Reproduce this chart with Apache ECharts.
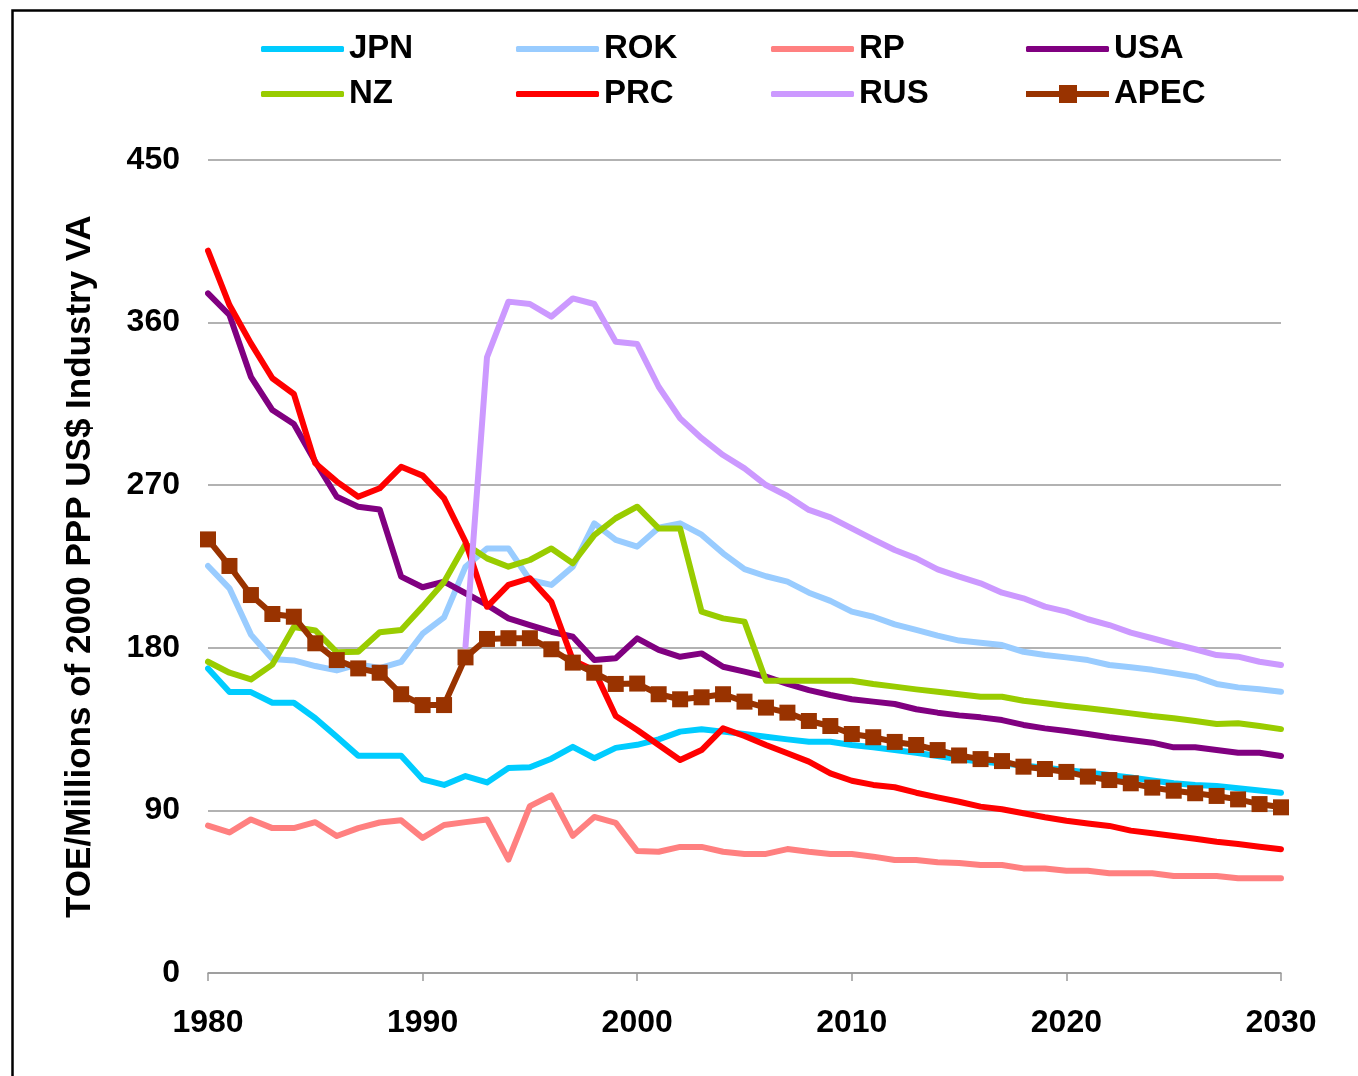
<!DOCTYPE html>
<html>
<head>
<meta charset="utf-8">
<script src="https://cdn.jsdelivr.net/npm/echarts@6/dist/echarts.min.js"></script>
<style>
html,body{margin:0;padding:0;background:#fff;}
#chart{width:1358px;height:1076px;}
</style>
</head>
<body>
<div id="chart"></div>
<script>
var years = ['1980','1981','1982','1983','1984','1985','1986','1987','1988','1989',
  '1990','1991','1992','1993','1994','1995','1996','1997','1998','1999',
  '2000','2001','2002','2003','2004','2005','2006','2007','2008','2009',
  '2010','2011','2012','2013','2014','2015','2016','2017','2018','2019',
  '2020','2021','2022','2023','2024','2025','2026','2027','2028','2029','2030'];

var yTicks = [0, 90, 180, 270, 360, 450];

var JPN = [168.6,155.5,155.5,149.6,149.6,141,130.8,120.3,120.3,120.3,
  107.2,104.1,109,105.5,113.5,113.9,118.6,125.2,118.9,124.6,
  126.3,129.3,133.6,134.9,133.6,132.3,130.8,129.3,128,128,
  126.2,124.9,123.4,121.9,120.1,118.3,117,116,114.8,113.6,
  112.4,111,109.6,108.2,106.6,105,104,103.5,102.3,101,99.8];

var ROK = [225.3,212.9,187.3,173.8,173,169.9,167.5,170.8,168.8,172.2,
  187.8,196.8,224.9,235,235,217.5,214.8,224.9,248.9,239.7,
  236,246.5,248.9,242.6,232.3,223.5,219.6,216.6,210.5,206,
  200,197.2,193,189.9,186.7,184,182.8,181.5,177.8,176,
  174.7,173.2,170.5,169.2,167.8,165.9,164,160,158.1,157,155.7];

var RP = [81.6,77.8,85,80.2,80.2,83.5,75.8,80.2,83.3,84.5,
  74.8,81.9,83.5,85,62.8,92.4,98.3,75.9,86.4,83.1,
  67.5,67.1,69.8,69.8,67.1,65.9,65.9,68.6,67.1,65.9,
  65.9,64.4,62.5,62.5,61.3,60.9,59.8,59.8,57.9,57.9,
  56.6,56.6,55.2,55.2,55.2,53.7,53.7,53.7,52.4,52.4,52.4];

var USA = [376.2,364.2,330,311.6,303.9,283,263.6,258.1,256.6,219.4,
  213.5,216.6,210.2,203.7,196.3,192.6,188.9,186.1,173.2,174.2,
  185.2,178.8,175,176.9,169.5,166.8,164,160,156.6,153.9,
  151.5,150.2,148.9,146,144.1,142.6,141.5,140,137.3,135.4,
  133.9,132.3,130.5,129,127.5,124.9,124.9,123.4,121.9,121.9,120.1];

var NZ = [172.3,166.2,162.5,170.7,191.5,189.6,177.6,177.8,188.6,189.8,
  202.8,216.4,237.5,229.5,224.9,228.6,235,226.8,242.4,251.7,
  258.1,246.1,246.1,200,196.3,194.5,161.8,161.8,161.8,161.8,
  161.8,160,158.5,157,155.7,154.3,152.9,152.9,150.7,149.3,
  147.8,146.5,145.2,143.7,142.2,141,139.5,137.8,138.2,136.7,135];

var PRC = [399.8,369.7,348.5,329.2,320.5,282.1,272,263.6,268.3,280.2,
  275.3,262.7,238.7,202.7,214.8,218.5,205.5,173.2,167.5,142.2,
  134.5,126.2,117.9,123.4,135.4,131.2,126.2,121.6,117,110.5,
  106.4,104.1,102.8,99.8,97.2,94.8,92.1,90.6,88.4,86.2,
  84.3,82.8,81.4,78.8,77.3,75.8,74.3,72.7,71.4,69.9,68.5];

var RUS = [null,null,null,null,null,null,null,null,null,null,
  null,null,181,340.8,371.6,370.3,363.3,373.4,370.3,349.4,
  348.1,324.5,307,296,286.7,279.3,270.1,264,256.3,252.2,
  246.1,240,234.1,229.5,223.4,219.4,215.7,210.5,207.4,202.8,
  200,195.8,192.6,188.4,185.3,182.1,179.2,176,175.1,172.3,170.5];

var APEC = [240,225.3,209.2,198.7,197.2,182.5,173.2,168.6,166.2,154.3,
  148.3,148.3,174.7,184.9,185.3,185.3,179.2,171.8,166.2,160,
  160.2,154.3,151.5,152.6,154.3,150.2,146.9,144.1,139.5,136.7,
  132.3,130.5,127.9,126.2,123.4,120.4,118.4,117.3,114.2,112.9,
  111.3,108.7,106.8,105,102.6,100.9,99.5,98,96.1,93.5,91.7];

var seriesDefs = [
  {name:'JPN', data:JPN, color:'#00CCFF'},
  {name:'ROK', data:ROK, color:'#99CCFF'},
  {name:'RP',  data:RP,  color:'#FF8080'},
  {name:'USA', data:USA, color:'#800080'},
  {name:'NZ',  data:NZ,  color:'#99CC00'},
  {name:'PRC', data:PRC, color:'#FF0000'},
  {name:'RUS', data:RUS, color:'#CC99FF'},
  {name:'APEC',data:APEC,color:'#993300', marker:true}
];

var FONT = '"Liberation Sans", Arial, sans-serif';

var legends = seriesDefs.map(function(s, i){
  var col = i % 4, row = Math.floor(i / 4);
  return {
    data:[{name:s.name, icon: s.marker ? 'path://M0,6H83V12H0Z M33,0H51V18H33Z' : 'roundRect'}],
    left: 261 + col * 255,
    top: 30 + row * 45,
    padding: 0,
    itemWidth: 83,
    itemHeight: s.marker ? 18 : 6,
    itemGap: 0,
    selectedMode: false,
    itemStyle:{color:s.color, borderWidth:0},
    lineStyle:{width:0, opacity:0},
    textStyle:{fontFamily:FONT, fontWeight:'bold', fontSize:33, color:'#000', lineHeight:38}
  };
});

var series = seriesDefs.map(function(s){
  return {
    name: s.name,
    type: 'line',
    data: s.data,
    connectNulls: false,
    smooth: false,
    symbol: s.marker ? 'rect' : 'none',
    symbolSize: s.marker ? 16 : 0,
    showSymbol: !!s.marker,
    showAllSymbol: true,
    lineStyle:{color:s.color, width:6, cap:'round', join:'round'},
    itemStyle:{color:s.color},
    emphasis:{disabled:true},
    animation:false
  };
});

var chart = echarts.init(document.getElementById('chart'), null, {renderer:'canvas'});
chart.setOption({
  backgroundColor:'#fff',
  animation:false,
  graphic:[{
    type:'rect', left:10, top:8, z:-1,
    shape:{x:0, y:0, width:1400, height:1120},
    style:{fill:'none', stroke:'#000', lineWidth:2.5}
  }],
  legend: legends,
  grid:{left:208, right:77, top:160, bottom:103, containLabel:false},
  xAxis:{
    type:'category',
    data: years,
    boundaryGap:false,
    axisLine:{show:true, lineStyle:{color:'#999', width:1.5}},
    axisTick:{show:true, length:8, interval:function(i){return i % 10 === 0;}, lineStyle:{color:'#999', width:1.5}},
    axisLabel:{interval:function(i){return i % 10 === 0;}, margin:34, fontFamily:FONT, fontWeight:'bold', fontSize:32, color:'#000'},
    splitLine:{show:false}
  },
  yAxis:{
    type:'value',
    min: yTicks[0],
    max: yTicks[yTicks.length-1],
    interval: 90,
    axisLine:{show:false},
    axisTick:{show:false},
    axisLabel:{margin:28, fontFamily:FONT, fontWeight:'bold', fontSize:32, color:'#000'},
    splitLine:{show:true, lineStyle:{color:'#999', width:1.5}},
    name:'TOE/Millions of 2000 PPP US$ Industry VA',
    nameLocation:'middle',
    nameGap:110,
    nameRotate:90,
    nameTextStyle:{fontFamily:FONT, fontWeight:'bold', fontSize:35, color:'#000'}
  },
  series: series
});
</script>
</body>
</html>
